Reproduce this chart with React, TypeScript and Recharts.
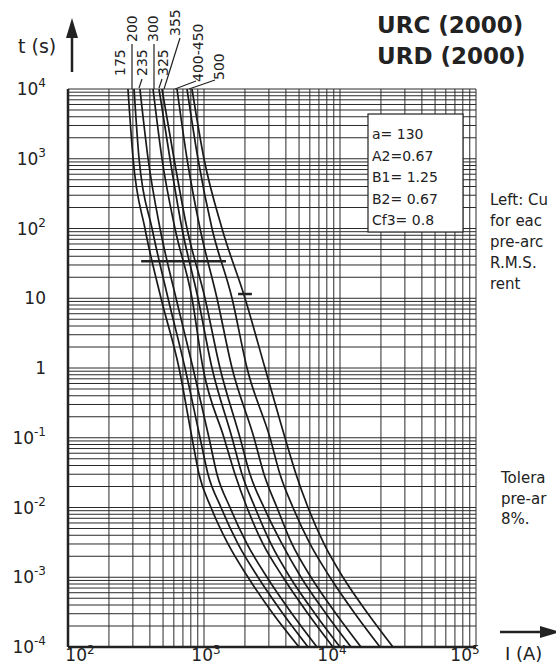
import React from 'react';
import { CartesianGrid, ComposedChart, Line, ReferenceLine, XAxis, YAxis } from 'recharts';

const FONT = '"DejaVu Sans", "Open Sans", sans-serif';
const INK = '#222';

// pre-arcing time (s) at which each current below is read
const tValues = [10000, 1000, 100, 10, 1, 0.1, 0.03, 0.01, 0.003, 0.001, 0.0003, 0.0001];

// current (A) per fuse rating, one value per entry of tValues
const i175 = [276, 301, 368, 483, 655, 816, 919, 1126, 1502, 2106, 3217, 4995];
const i200 = [306, 333, 415, 544, 725, 935, 1070, 1334, 1778, 2495, 3810, 5820];
const i235 = [338, 388, 475, 623, 830, 1088, 1246, 1553, 2071, 2905, 4436, 6770];
const i300 = [422, 491, 612, 816, 983, 1403, 1690, 2071, 2715, 3810, 5820, 8880];
const i325 = [467, 562, 689, 903, 1145, 1607, 1903, 2371, 3110, 4290, 6550, 10000];
const i355 = [491, 602, 750, 1017, 1311, 1840, 2179, 2762, 3746, 5167, 7890, 12050];
const i400 = [633, 750, 935, 1246, 1607, 2331, 2762, 3440, 4436, 6120, 9350, 14270];
const i450 = [750, 903, 1145, 1607, 2071, 3057, 3620, 4510, 6020, 8440, 12890, 19690];
const i500 = [816, 1000, 1356, 2002, 2809, 3940, 4750, 5820, 7630, 10520, 16060, 24530];

const curves = [i175, i200, i235, i300, i325, i355, i400, i450, i500];

// the two short horizontal markers drawn across the curves
const markerLong = { t: 34, from: 345, to: 1450 };
const markerShort = { t: 11.5, from: 1780, to: 2250 };

const params = ['a= 130', 'A2=0.67', 'B1= 1.25', 'B2= 0.67', 'Cf3= 0.8'];
// side notes, as much of them as shows before the page edge
const noteTop = ['Left: Cu', 'for eac', 'pre-arc', 'R.M.S.', 'rent'];
const noteBottom = ['Tolera', 'pre-ar', '8%.'];

const xDecades = [100, 1000, 10000];
const yDecades = [0.0001, 0.001, 0.01, 0.1, 1, 10, 100, 1000];
const xTicks = [...xDecades.flatMap((d) => [1, 2, 3, 4, 5, 6, 7, 8, 9].map((k) => k * d)), 100000];
const yTicks = [...yDecades.flatMap((d) => [1, 2, 3, 4, 5, 6, 7, 8, 9].map((k) => +(k * d).toPrecision(3))), 10000];

const isDecade = (v: number) => {
  const e = Math.round(Math.log10(v));
  return Math.abs(v / Math.pow(10, e) - 1) < 1e-6 ? e : null;
};

const XTick = (props: any) => {
  const { x, payload } = props;
  const e = isDecade(payload.value);
  if (e === null) return null;
  const shift: Record<number, number> = { 2: 12, 3: 2, 4: -8, 5: -11 };
  return (
    <text x={x + (shift[e] ?? 0)} y={661} textAnchor="middle" fontFamily={FONT} fontSize={17} fill={INK}>
      <tspan>10</tspan>
      <tspan dy={-7} fontSize={12}>{e}</tspan>
    </text>
  );
};

const YTick = (props: any) => {
  const { y, payload } = props;
  const e = isDecade(payload.value);
  if (e === null) return null;
  return (
    <text x={46} y={y + 6} textAnchor="end" fontFamily={FONT} fontSize={17} fill={INK}>
      {e === 0 ? '1' : e === 1 ? '10' : (
        <>
          <tspan>10</tspan>
          <tspan dy={-8} fontSize={12}>{e}</tspan>
        </>
      )}
    </text>
  );
};

// rotated rating labels above the plot with their leaders
const ratingLabels = [
  { text: '175', x: 125, y: 76 },
  { text: '200', x: 137, y: 42, lead: [132, 44, 132, 89] },
  { text: '235', x: 147, y: 76, lead: [142, 79, 139, 88] },
  { text: '300', x: 158, y: 42, lead: [154, 44, 154, 89] },
  { text: '325', x: 168, y: 76, lead: [162, 79, 159, 88] },
  { text: '355', x: 180, y: 36, lead: [180, 38, 164, 89] },
  { text: '400-450', x: 203, y: 82, lead: [196, 81, 175, 89] },
  { text: '500', x: 224, y: 80, lead: [215, 80, 189, 89] },
];

function Overlay() {
  return (
    <svg width={556} height={666} style={{ position: 'absolute', left: 0, top: 0, pointerEvents: 'none' }}>
      <g fontFamily={FONT} fill={INK}>
        <text x={18} y={53} fontSize={19}>t (s)</text>
        <line x1={72} y1={72} x2={72} y2={34} stroke={INK} strokeWidth={2.5} />
        <polygon points="72,18 66,38 78,38" />

        <text x={377} y={33} fontSize={23} fontWeight={700}>URC (2000)</text>
        <text x={377} y={64} fontSize={23} fontWeight={700}>URD (2000)</text>

        {ratingLabels.map((r) => (
          <g key={r.text}>
            <text x={r.x} y={r.y} fontSize={14} transform={`rotate(-90 ${r.x} ${r.y})`}>{r.text}</text>
            {r.lead && (
              <line x1={r.lead[0]} y1={r.lead[1]} x2={r.lead[2]} y2={r.lead[3]} stroke={INK} strokeWidth={1.2} />
            )}
          </g>
        ))}

        <rect x={368} y={114} width={95} height={118} fill="#fff" stroke={INK} strokeWidth={1.2} />
        {params.map((p, i) => (
          <text key={p} x={372} y={139 + i * 21.5} fontSize={14}>{p}</text>
        ))}

        {noteTop.map((s, i) => (
          <text key={s} x={490} y={205 + i * 21} fontSize={15}>{s}</text>
        ))}
        {noteBottom.map((s, i) => (
          <text key={s} x={501} y={483 + i * 20.5} fontSize={15}>{s}</text>
        ))}

        <line x1={500} y1={632} x2={545} y2={632} stroke={INK} strokeWidth={2.5} />
        <polygon points="560,632 540,626 540,638" />
        <text x={505} y={660} fontSize={18}>I (A)</text>
      </g>
    </svg>
  );
}

export default function App() {
  return (
    <div style={{ position: 'absolute', left: 0, top: 0, width: 556, height: 666, background: '#fff', overflow: 'hidden' }}>
      <ComposedChart width={556} height={666} margin={{ top: 89, right: 80, bottom: 0, left: 0 }}>
        <CartesianGrid stroke="#2a2a2a" strokeWidth={1} />
        <XAxis
          dataKey="I"
          type="number"
          scale="log"
          domain={[100, 100000]}
          ticks={xTicks}
          allowDataOverflow
          axisLine={false}
          tickLine={false}
          height={19}
          tick={<XTick />}
          interval={0}
        />
        <YAxis
          type="number"
          scale="log"
          domain={[0.0001, 10000]}
          ticks={yTicks}
          allowDataOverflow
          axisLine={false}
          tickLine={false}
          width={68}
          tick={<YTick />}
          interval={0}
        />
        <ReferenceLine x={100} stroke={INK} strokeWidth={2.5} />
        <ReferenceLine y={0.0001} stroke={INK} strokeWidth={2.5} />
        {curves.map((c, k) => (
          <Line
            key={k}
            data={c.map((I, j) => ({ I, t: tValues[j] }))}
            dataKey="t"
            type="monotone"
            stroke="#1a1a1a"
            strokeWidth={1.7}
            dot={false}
            isAnimationActive={false}
          />
        ))}
        <ReferenceLine
          segment={[{ x: markerLong.from, y: markerLong.t }, { x: markerLong.to, y: markerLong.t }]}
          stroke={INK}
          strokeWidth={2.5}
        />
        <ReferenceLine
          segment={[{ x: markerShort.from, y: markerShort.t }, { x: markerShort.to, y: markerShort.t }]}
          stroke={INK}
          strokeWidth={2.5}
        />
      </ComposedChart>
      <Overlay />
    </div>
  );
}
